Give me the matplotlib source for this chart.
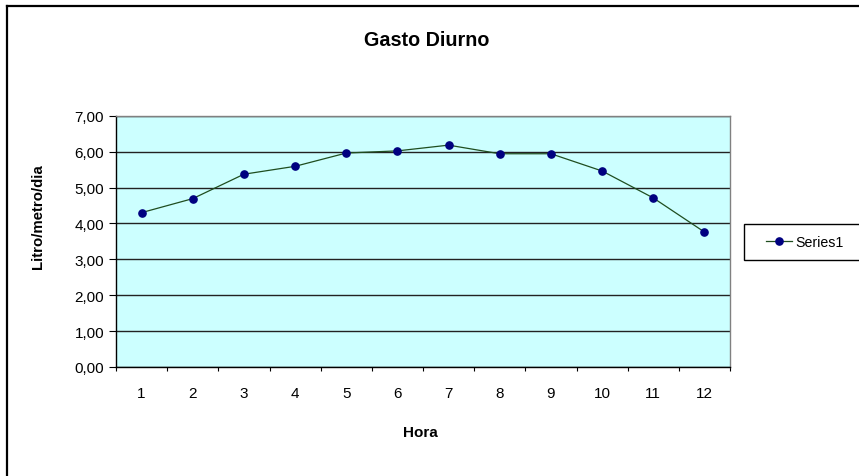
import matplotlib
matplotlib.use("Agg")
import matplotlib.pyplot as plt
from matplotlib.lines import Line2D
from matplotlib.patches import Rectangle

plt.rcParams['font.family'] = ['Liberation Sans', 'DejaVu Sans']

hours = [1, 2, 3, 4, 5, 6, 7, 8, 9, 10, 11, 12]
values = [4.30, 4.69, 5.37, 5.59, 5.96, 6.02, 6.18, 5.94, 5.94, 5.46, 4.71, 3.76]
y_ticks = [0, 1, 2, 3, 4, 5, 6, 7]
y_tick_labels = ["0,00", "1,00", "2,00", "3,00", "4,00", "5,00", "6,00", "7,00"]
series_name = "Series1"

W, H = 859, 477
fig = plt.figure(figsize=(W / 100, H / 100), dpi=100)
fig.patch.set_facecolor('white')

left, right, top, bottom = 116, 730, 116.7, 368
ax = fig.add_axes([left / W, 1 - bottom / H, (right - left) / W, (bottom - top) / H])
ax.set_facecolor('#CCFFFF')

line, = ax.plot(hours, values, color='#1f4d1f', lw=0.9, marker='o', markersize=5.2,
                markerfacecolor='#000080', markeredgecolor='#000080',
                label=series_name, zorder=3)

ax.set_xlim(0.5, 12.5)
ax.set_ylim(0, 7)
ax.set_yticks(y_ticks)
ax.set_yticklabels(y_tick_labels)
ax.yaxis.grid(True, color='#222222', lw=1.0, zorder=1)
ax.set_axisbelow(True)

ax.set_xticks([h - 0.5 for h in hours] + [12.5])
ax.set_xticklabels([])
ax.set_xticks(hours, minor=True)
ax.set_xticklabels([str(h) for h in hours], minor=True)
ax.tick_params(axis='x', which='major', direction='out', length=3, width=0.8, color='black')
ax.tick_params(axis='x', which='minor', length=0, pad=13.5, labelsize=11)
ax.tick_params(axis='y', direction='out', length=5, width=0.8, pad=3.6, labelsize=11)

for s in ['left', 'bottom']:
    ax.spines[s].set_color('black')
    ax.spines[s].set_linewidth(1.0)
for s in ['top', 'right']:
    ax.spines[s].set_color('#808080')
    ax.spines[s].set_linewidth(1.0)

fig.text(427 / W, 1 - 40 / H, "Gasto Diurno", ha='center', va='center',
         fontsize=14.2, fontweight='bold')
fig.text(420 / W, 1 - 433 / H, "Hora", ha='center', va='center',
         fontsize=11, fontweight='bold')
fig.text(38 / W, 1 - 217 / H, "Litro/metro/dia", ha='center', va='center',
         rotation=90, fontsize=10.8, fontweight='bold')

# legend box
fig.patches.append(Rectangle((744 / W, 1 - 261 / H), 200 / W, 36 / H,
                             transform=fig.transFigure, facecolor='white',
                             edgecolor='black', lw=1.0))
leg = fig.legend(handles=[line], labels=[series_name], loc='center left',
                 bbox_to_anchor=(766 / W, 1 - 243 / H), frameon=False,
                 borderpad=0, borderaxespad=0, handlelength=1.85,
                 handletextpad=0.25, fontsize=10.2, numpoints=1)

# outer chart border (left and top)
fig.add_artist(Line2D([7 / W, 7 / W], [0, 1 - 7 / H], transform=fig.transFigure,
                      color='black', lw=1.6))
fig.add_artist(Line2D([7 / W, 1], [1 - 7 / H, 1 - 7 / H], transform=fig.transFigure,
                      color='black', lw=1.6))

fig.savefig("out.png", dpi=100)
